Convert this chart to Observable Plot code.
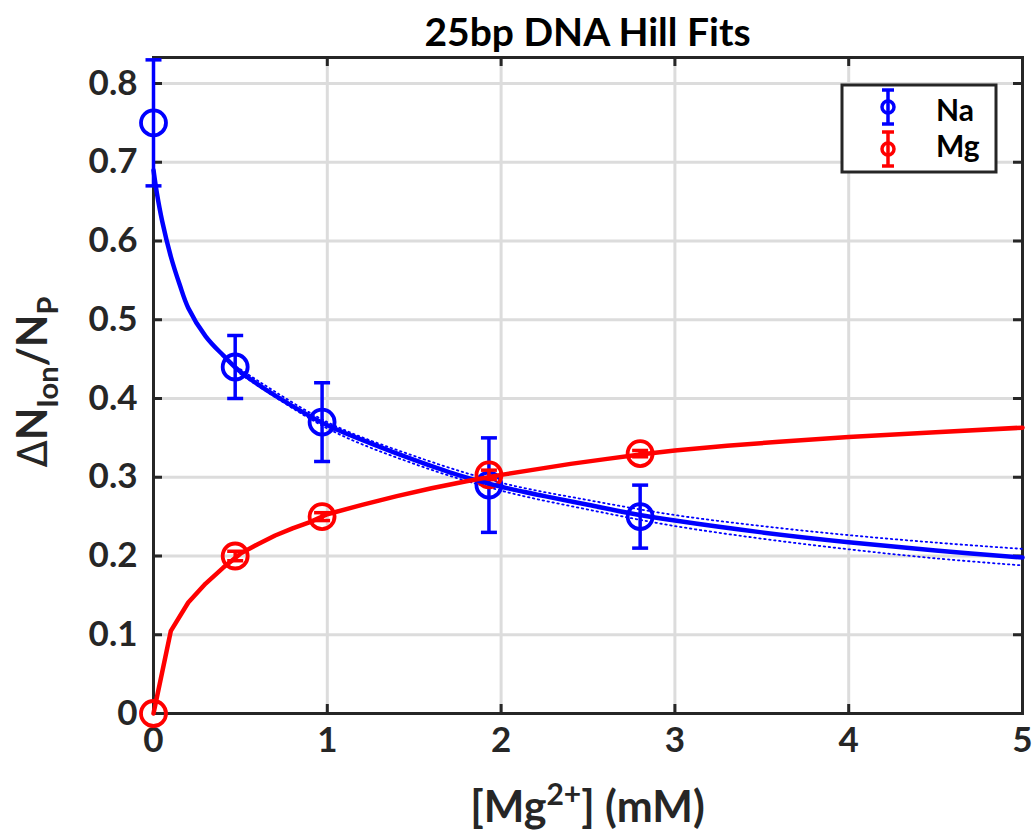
<!DOCTYPE html>
<html><head><meta charset="utf-8">
<script src="https://cdn.jsdelivr.net/npm/d3@7"></script>
<script src="https://cdn.jsdelivr.net/npm/@observablehq/plot@0.6"></script>
<style>body{margin:0;background:#fff;}</style>
</head><body><div id="chart"></div>
<script>
// measured points
const conc = [0, 0.47, 0.97, 1.93, 2.8];
const naMean = [0.75, 0.44, 0.37, 0.29, 0.25];
const naErr = [0.08, 0.04, 0.05, 0.06, 0.04];
const mgMean = [0, 0.2, 0.25, 0.303, 0.33];
const mgErr = [0, 0.006, 0.005, 0.006, 0.004];
// Hill fit curves
const naFitX = [0, 0.02, 0.05, 0.1, 0.15, 0.2, 0.3, 0.4, 0.5, 0.75, 1, 1.25, 1.5, 1.75, 2, 2.25, 2.5, 2.75, 3, 3.5, 4, 4.5, 5];
const naFitY = [0.69, 0.66, 0.625, 0.58, 0.545, 0.515, 0.479, 0.455, 0.434, 0.397, 0.366, 0.343, 0.322, 0.303, 0.288, 0.276, 0.265, 0.254, 0.245, 0.23, 0.2175, 0.207, 0.198];
const naBoundX = [0.5, 1, 1.5, 2, 2.5, 3, 3.5, 4, 4.5, 5];
const naBoundHi = [0.437, 0.370, 0.327, 0.293, 0.271, 0.252, 0.238, 0.2265, 0.217, 0.209];
const naBoundLo = [0.431, 0.362, 0.317, 0.283, 0.259, 0.238, 0.222, 0.2085, 0.197, 0.188];
const mgFitX = [0, 0.1, 0.2, 0.3, 0.4, 0.5, 0.6, 0.7, 0.8, 0.9, 1.0, 1.2, 1.4, 1.6, 1.8, 2.0, 2.2, 2.4, 2.6, 2.8, 3.0, 3.3, 3.6, 4.0, 4.5, 5.0];
const mgFitY = [0, 0.105, 0.141, 0.165, 0.185, 0.203, 0.215, 0.226, 0.235, 0.243, 0.253, 0.265, 0.276, 0.286, 0.295, 0.303, 0.310, 0.317, 0.323, 0.329, 0.334, 0.340, 0.345, 0.351, 0.357, 0.363];
// axes
const xTicks = [0, 1, 2, 3, 4, 5];
const xTickLabels = ["0", "1", "2", "3", "4", "5"];
const yTicks = [0, 0.1, 0.2, 0.3, 0.4, 0.5, 0.6, 0.7, 0.8];
const yTickLabels = ["0", "0.1", "0.2", "0.3", "0.4", "0.5", "0.6", "0.7", "0.8"];
const seriesNames = ["Na", "Mg"];
const seriesColors = ["#0000ff", "#ff0000"];

const W = 1035, H = 838, mL = 153, mR = 13, mT = 57, mB = 125;
const fw = W - mL - mR, fh = H - mT - mB;
const ink = "#262626";

const na = conc.map((x, i) => ({x, y: naMean[i], lo: naMean[i] - naErr[i], hi: naMean[i] + naErr[i]}));
const mg = conc.map((x, i) => ({x, y: mgMean[i], lo: mgMean[i] - mgErr[i], hi: mgMean[i] + mgErr[i]}));
const naFit = naFitX.map((x, i) => ({x, y: naFitY[i]}));
const mgFit = mgFitX.map((x, i) => ({x, y: mgFitY[i]}));
const naBHi = naBoundX.map((x, i) => ({x, y: naBoundHi[i]}));
const naBLo = naBoundX.map((x, i) => ({x, y: naBoundLo[i]}));

const cap = {draw(ctx, size) { const w = Math.sqrt(size / Math.PI); ctx.moveTo(-w, 0); ctx.lineTo(w, 0); }};

function errMarks(data, color) {
  const errData = data.filter(d => d.hi > d.lo);
  return [
    Plot.ruleX(errData, {x: "x", y1: "lo", y2: "hi", stroke: color, strokeWidth: 3.5}),
    Plot.dot(errData, {x: "x", y: "lo", symbol: cap, r: 8, stroke: color, strokeWidth: 3.5, fill: "none"}),
    Plot.dot(errData, {x: "x", y: "hi", symbol: cap, r: 8, stroke: color, strokeWidth: 3.5, fill: "none"}),
    Plot.dot(data, {x: "x", y: "y", r: 12.5, stroke: color, strokeWidth: 3.8, fill: "none"})
  ];
}

const plot = Plot.plot({
  width: W, height: H,
  marginLeft: mL, marginRight: mR, marginTop: mT, marginBottom: mB,
  style: {fontFamily: "Lato, 'Open Sans', sans-serif", fontSize: "35px", fontWeight: "bold", color: ink, background: "#fff"},
  x: {domain: [0, 5]},
  y: {domain: [0, 0.833]},
  marks: [
    Plot.gridX(xTicks, {stroke: "#dcdcdc", strokeOpacity: 1, strokeWidth: 3}),
    Plot.gridY(yTicks, {stroke: "#dcdcdc", strokeOpacity: 1, strokeWidth: 3}),
    Plot.axisX(xTicks, {tickSize: 0, tickPadding: 14, tickFormat: (d, i) => xTickLabels[i], label: null}),
    Plot.axisY(yTicks, {tickSize: 0, tickPadding: 16, tickFormat: (d, i) => yTickLabels[i], label: null}),
    Plot.frame({stroke: ink, strokeWidth: 3}),
    Plot.tickY(yTicks, {y: d => d, stroke: ink, strokeWidth: 3, insetRight: fw - 9}),
    Plot.tickY(yTicks, {y: d => d, stroke: ink, strokeWidth: 3, insetLeft: fw - 9}),
    Plot.tickX(xTicks, {x: d => d, stroke: ink, strokeWidth: 3, insetTop: fh - 9}),
    Plot.tickX(xTicks, {x: d => d, stroke: ink, strokeWidth: 3, insetBottom: fh - 9}),
    Plot.line(naBHi, {x: "x", y: "y", stroke: seriesColors[0], strokeWidth: 1.8, strokeDasharray: "1.5,3.5", curve: "catmull-rom"}),
    Plot.line(naBLo, {x: "x", y: "y", stroke: seriesColors[0], strokeWidth: 1.8, strokeDasharray: "1.5,3.5", curve: "catmull-rom"}),
    ...errMarks(na, seriesColors[0]),
    ...errMarks(mg, seriesColors[1]),
    Plot.line(naFit, {x: "x", y: "y", stroke: seriesColors[0], strokeWidth: 4.5, curve: "catmull-rom"}),
    Plot.line(mgFit, {x: "x", y: "y", stroke: seriesColors[1], strokeWidth: 4.5, curve: "linear"})
  ]
});

const svg = d3.select(plot);
// title
svg.append("text").attr("x", mL + fw / 2).attr("y", 46).attr("text-anchor", "middle")
  .attr("font-size", 39).attr("font-weight", "bold").attr("fill", "#000").text("25bp DNA Hill Fits");
// x label
const xl = svg.append("text").attr("x", mL + fw / 2).attr("y", 822).attr("text-anchor", "middle")
  .attr("font-size", 43).attr("font-weight", "bold").attr("fill", ink);
xl.append("tspan").text("[Mg");
xl.append("tspan").attr("font-size", 30).attr("dy", -17).text("2+");
xl.append("tspan").attr("dy", 17).text("] (mM)");
// y label
const yl = svg.append("text").attr("transform", `translate(47,382) rotate(-90)`).attr("text-anchor", "middle")
  .attr("font-size", 42).attr("font-weight", "bold").attr("fill", ink);
yl.append("tspan").attr("font-weight", "normal").attr("font-family", "DejaVu Sans").attr("font-size", 40).text("\u0394");
yl.append("tspan").text("N");
yl.append("tspan").attr("font-size", 29).attr("dy", 11).text("Ion");
yl.append("tspan").attr("dy", -11).text("/N");
yl.append("tspan").attr("font-size", 29).attr("dy", 11).text("P");
// legend
const lg = svg.append("g");
lg.append("rect").attr("x", 842).attr("y", 85).attr("width", 154).attr("height", 87)
  .attr("fill", "#fff").attr("stroke", ink).attr("stroke-width", 3);
const rows = [{cy: 107, ty: 121}, {cy: 149, ty: 157}];
seriesNames.forEach((name, i) => {
  const c = seriesColors[i], cy = rows[i].cy;
  lg.append("line").attr("x1", 888).attr("x2", 888).attr("y1", cy - 17).attr("y2", cy + 17).attr("stroke", c).attr("stroke-width", 3.5);
  lg.append("line").attr("x1", 882).attr("x2", 894).attr("y1", cy - 17).attr("y2", cy - 17).attr("stroke", c).attr("stroke-width", 3.5);
  lg.append("line").attr("x1", 882).attr("x2", 894).attr("y1", cy + 17).attr("y2", cy + 17).attr("stroke", c).attr("stroke-width", 3.5);
  lg.append("circle").attr("cx", 888).attr("cy", cy).attr("r", 6).attr("fill", "none").attr("stroke", c).attr("stroke-width", 3.5);
  lg.append("text").attr("x", 936).attr("y", rows[i].ty).attr("text-anchor", "start").attr("font-size", 30).attr("font-weight", "bold").attr("fill", "#000").text(name);
});

document.getElementById("chart").appendChild(plot);
</script>
</body></html>
